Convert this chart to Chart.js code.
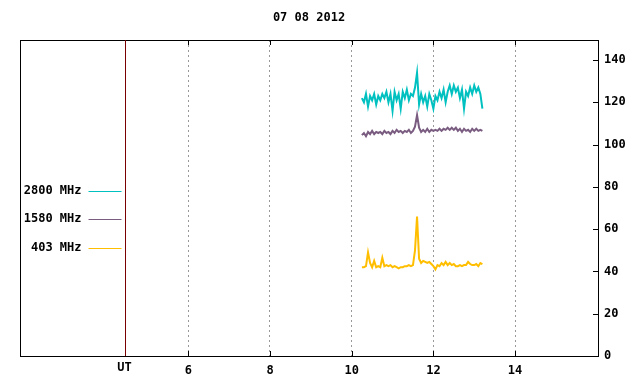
<!DOCTYPE html>
<html>
<head>
<meta charset="utf-8">
<script src="https://cdn.jsdelivr.net/npm/chart.js@4.4.0/dist/chart.umd.min.js"></script>
<style>
  html, body { margin: 0; padding: 0; background: #fff; }
  #wrap { width: 640px; height: 384px; }
</style>
</head>
<body>
<div id="wrap"><canvas id="solarChart" width="640" height="384"></canvas></div>
<script>
// flux data, 07 08 2012 (hours UT)
const chartTitle = "07 08 2012";
const hours = [10.25, 10.30, 10.35, 10.40, 10.45, 10.50, 10.55, 10.60, 10.65, 10.70,
  10.75, 10.80, 10.85, 10.90, 10.95, 11.00, 11.05, 11.10, 11.15, 11.20,
  11.25, 11.30, 11.35, 11.40, 11.45, 11.50, 11.55, 11.60, 11.65, 11.70,
  11.75, 11.80, 11.85, 11.90, 11.95, 12.00, 12.05, 12.10, 12.15, 12.20,
  12.25, 12.30, 12.35, 12.40, 12.45, 12.50, 12.55, 12.60, 12.65, 12.70,
  12.75, 12.80, 12.85, 12.90, 12.95, 13.00, 13.05, 13.10, 13.15, 13.20];

const flux2800 = [122, 120, 124, 118, 123, 121, 124, 119, 123, 121,
  124, 122, 125, 120, 124, 116, 125, 121, 124, 117,
  125, 122, 126, 121, 124, 123, 127, 134, 119, 124,
  120, 123, 118, 124, 121, 117, 123, 121, 125, 122,
  126, 120, 125, 128, 124, 128, 125, 127, 122, 126,
  117, 125, 123, 127, 124, 128, 125, 127, 124, 117];

const flux1580 = [104.5, 105.5, 104, 106, 105, 106.5, 105, 106, 105.5, 106,
  105, 106.5, 105.5, 106, 105, 106.5, 105.5, 107, 106, 106.5,
  105.5, 106.5, 106, 107, 105.5, 106.5, 108.5, 114, 108, 106,
  107, 106, 107.5, 106, 107, 106.5, 107, 106.5, 107.5, 106.5,
  107.5, 107, 108, 107, 108, 107, 108, 106.5, 107.5, 106,
  107.5, 106.5, 107, 106, 107.5, 106.5, 107.5, 106.5, 107, 106.5];

const flux403 = [42, 42, 42.5, 49, 44, 42, 45, 42, 42.5, 42,
  46.5, 42.5, 43, 42.5, 43, 42, 42.5, 42, 41.5, 42,
  42, 42.5, 42.5, 43, 42.5, 43, 50, 66, 46, 44,
  45, 44.5, 44, 44.5, 43.5, 42.5, 41, 43, 42.5, 44,
  43, 44.5, 43, 44, 43, 43.5, 42.5, 42.5, 43, 42.5,
  43, 43, 44.5, 43.5, 43, 43, 43.5, 42.5, 44, 43.5];

const seriesNames = ["2800 MHz", "1580 MHz", "403 MHz"];
const seriesColors = ["#00c0c0", "#7a5c80", "#ffbe00"];
const xTicks = [6, 8, 10, 12, 14];
const yTicks = [0, 20, 40, 60, 80, 100, 120, 140];
const utHour = 4.45;

const FONT = { family: "'DejaVu Sans Mono', monospace", size: 12, weight: "bold" };

function toPoints(vals) {
  return hours.map((h, i) => ({ x: h, y: vals[i] }));
}

// frame, inward ticks, UT marker, title and the little legend on the left
const framePlugin = {
  id: "frame",
  afterDraw(chart) {
    const c = chart.ctx, a = chart.chartArea;
    const xs = chart.scales.x, ys = chart.scales.y;
    c.save();
    c.strokeStyle = "#000";
    c.lineWidth = 1;
    c.strokeRect(a.left + 0.5, a.top + 0.5, a.right - a.left, a.bottom - a.top);

    c.beginPath();
    xTicks.forEach(v => {
      const px = Math.round(xs.getPixelForValue(v)) + 0.5;
      c.moveTo(px, a.bottom); c.lineTo(px, a.bottom - 5);
      c.moveTo(px, a.top); c.lineTo(px, a.top + 5);
    });
    yTicks.forEach(v => {
      const py = Math.round(ys.getPixelForValue(v)) + 0.5;
      c.moveTo(a.right, py); c.lineTo(a.right - 5, py);
    });
    c.stroke();

    // UT line
    const ux = Math.round(xs.getPixelForValue(utHour)) + 0.5;
    c.strokeStyle = "#7a0000";
    c.beginPath(); c.moveTo(ux, a.top); c.lineTo(ux, a.bottom); c.stroke();

    c.fillStyle = "#000";
    c.font = `${FONT.weight} ${FONT.size}px ${FONT.family}`;
    c.textAlign = "center";
    c.textBaseline = "middle";
    c.fillText("UT", ux - 1, a.bottom + 12);
    c.fillText(chartTitle, (a.left + a.right) / 2, 18);

    // legend
    const rows = [191, 219, 248];
    c.textAlign = "right";
    chart.data.datasets.forEach((ds, i) => {
      c.fillStyle = "#000";
      c.fillText(ds.label, ux - 44, rows[i]);
      c.strokeStyle = ds.borderColor;
      c.beginPath();
      c.moveTo(ux - 37, rows[i] + 0.5);
      c.lineTo(ux - 4, rows[i] + 0.5);
      c.stroke();
    });
    c.restore();
  }
};

const ctx = document.getElementById("solarChart").getContext("2d");
const solarChart = new Chart(ctx, {
  type: "line",
  data: {
    datasets: [
      { label: seriesNames[0], data: toPoints(flux2800), borderColor: seriesColors[0] },
      { label: seriesNames[1], data: toPoints(flux1580), borderColor: seriesColors[1] },
      { label: seriesNames[2], data: toPoints(flux403), borderColor: seriesColors[2] }
    ]
  },
  options: {
    responsive: false,
    animation: false,
    layout: { padding: { left: 20, top: 40, right: 0, bottom: 0 } },
    elements: {
      point: { radius: 0 },
      line: { borderWidth: 2, tension: 0 }
    },
    plugins: {
      legend: { display: false },
      tooltip: { enabled: false },
      title: { display: false }
    },
    scales: {
      x: {
        type: "linear",
        min: 1.88,
        max: 16.03,
        afterBuildTicks: s => { s.ticks = xTicks.map(v => ({ value: v })); },
        afterFit: s => { s.height = 28; },
        ticks: { color: "#000", font: FONT, padding: 8, maxRotation: 0 },
        grid: { color: "#999", drawTicks: false, lineWidth: 1 },
        border: { display: false, dash: [2, 3] }
      },
      y: {
        position: "right",
        min: 0,
        max: 149.5,
        afterBuildTicks: s => { s.ticks = yTicks.map(v => ({ value: v })); },
        afterFit: s => { s.width = 42; },
        ticks: { color: "#000", font: FONT, padding: 6 },
        grid: { drawOnChartArea: false, drawTicks: false },
        border: { display: false }
      }
    }
  },
  plugins: [framePlugin]
});
</script>
</body>
</html>
